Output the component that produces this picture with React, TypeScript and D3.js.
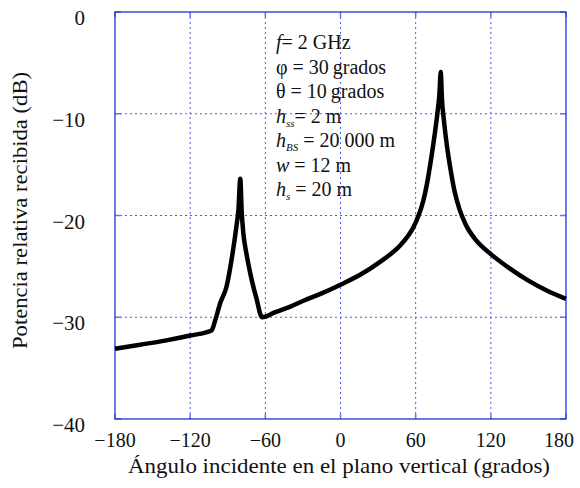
import React, { useEffect, useRef } from "react";
import * as d3 from "d3";

// angle (grados) and received power (dB)
const angles = [-180, -160, -140, -120, -103, -100, -96, -91, -86, -83, -81.5, -80, -78.8, -77.5, -75, -72, -67, -62.6,
  -52, -40, -30, -16, 0, 16, 31, 48, 54, 58, 62, 66, 69, 72, 75, 77.5, 79, 80, 81, 82.5, 85, 88, 91, 95, 100, 108, 120, 135, 150, 165, 180];
const power = [-33.1, -32.7, -32.3, -31.8, -31.3, -30.3, -28.6, -27.0, -23.6, -21.0, -19.5, -16.4, -19.8, -21.8, -23.8, -25.7, -28.2, -30.0,
  -29.5, -28.95, -28.4, -27.7, -26.8, -25.8, -24.6, -22.9, -22.0, -21.2, -20.1, -18.6, -16.9, -14.7, -12.2, -9.8, -8.0, -5.9, -8.6, -10.6, -13.2, -15.6, -17.6, -19.4, -20.9, -22.4, -23.8, -25.2, -26.4, -27.4, -28.2];

const xTicks = [-180, -120, -60, 0, 60, 120, 180];
const yTicks = [0, -10, -20, -30, -40];

const W = 580;
const H = 488;
const margin = { left: 115, right: 14, top: 12, bottom: 69 };

export default function App() {
  const ref = useRef<SVGSVGElement>(null);

  useEffect(() => {
    const svg = d3.select(ref.current);
    svg.selectAll("*").remove();
    const font = "'Liberation Serif', 'Times New Roman', serif";

    const x = d3.scaleLinear().domain([-180, 180]).range([margin.left, W - margin.right]);
    const y = d3.scaleLinear().domain([-40, 0]).range([H - margin.bottom, margin.top]);

    const grid = svg.append("g");
    grid.selectAll("line.vx")
      .data(xTicks.slice(1, -1))
      .enter().append("line")
      .attr("x1", (d) => x(d)).attr("x2", (d) => x(d))
      .attr("y1", y(0)).attr("y2", y(-40))
      .attr("stroke", "#4a5ee6").attr("stroke-width", 1)
      .attr("stroke-dasharray", "2,3");
    grid.selectAll("line.hy")
      .data(yTicks.slice(1, -1))
      .enter().append("line")
      .attr("x1", x(-180)).attr("x2", x(180))
      .attr("y1", (d) => y(d)).attr("y2", (d) => y(d))
      .attr("stroke", "#4a5ee6").attr("stroke-width", 1)
      .attr("stroke-dasharray", "2,3");

    // small tick marks on frame
    xTicks.forEach((t) => {
      grid.append("line").attr("x1", x(t)).attr("x2", x(t)).attr("y1", y(-40)).attr("y2", y(-40) - 5).attr("stroke", "#6677e8").attr("stroke-width", 1.5);
      grid.append("line").attr("x1", x(t)).attr("x2", x(t)).attr("y1", y(0)).attr("y2", y(0) + 5).attr("stroke", "#6677e8").attr("stroke-width", 1.5);
    });
    yTicks.forEach((t) => {
      grid.append("line").attr("x1", x(-180)).attr("x2", x(-180) + 6).attr("y1", y(t)).attr("y2", y(t)).attr("stroke", "#6677e8").attr("stroke-width", 1.5);
      grid.append("line").attr("x1", x(180)).attr("x2", x(180) - 6).attr("y1", y(t)).attr("y2", y(t)).attr("stroke", "#6677e8").attr("stroke-width", 1.5);
    });

    svg.append("rect")
      .attr("x", x(-180)).attr("y", y(0))
      .attr("width", x(180) - x(-180)).attr("height", y(-40) - y(0))
      .attr("fill", "none").attr("stroke", "#1f33d6").attr("stroke-width", 1.3);

    const line = d3.line<number>()
      .x((_, i) => x(angles[i]))
      .y((d) => y(d))
      .curve(d3.curveMonotoneX);

    svg.append("path")
      .datum(power)
      .attr("d", line)
      .attr("fill", "none")
      .attr("stroke", "#000")
      .attr("stroke-width", 4.5)
      .attr("stroke-linejoin", "miter");

    svg.selectAll("text.xt")
      .data(xTicks)
      .enter().append("text")
      .attr("x", (d) => (d === 180 ? 574 : x(d)))
      .attr("y", 447)
      .attr("text-anchor", (d) => (d === 180 ? "end" : "middle"))
      .attr("font-family", font).attr("font-size", 20).attr("fill", "#111")
      .text((d) => (d < 0 ? "\u2212" + Math.abs(d) : String(d)));

    svg.selectAll("text.yt")
      .data(yTicks)
      .enter().append("text")
      .attr("x", 85).attr("y", (d) => y(d) + 13)
      .attr("text-anchor", "end")
      .attr("font-family", font).attr("font-size", 21).attr("fill", "#111")
      .text((d) => (d < 0 ? "\u2212" + Math.abs(d) : String(d)));

    svg.append("text")
      .attr("x", 128).attr("y", 473)
      .attr("textLength", 422).attr("lengthAdjust", "spacingAndGlyphs")
      .attr("font-family", font).attr("font-size", 22).attr("fill", "#111")
      .text("Ángulo incidente en el plano vertical (grados)");

    svg.append("text")
      .attr("transform", "translate(27,349) rotate(-90)")
      .attr("textLength", 277).attr("lengthAdjust", "spacingAndGlyphs")
      .attr("font-family", font).attr("font-size", 20.5).attr("fill", "#111")
      .text("Potencia relativa recibida (dB)");

    // annotation block
    const lines: [string, string, string][] = [
      ["f", "", "= 2 GHz"],
      ["", "", "\u03c6 = 30\u2009grados"],
      ["", "", "\u03b8 = 10\u2009grados"],
      ["h", "ss", "= 2 m"],
      ["h", "BS", " = 20 000 m"],
      ["w", "", " = 12 m"],
      ["h", "s", " = 20 m"],
    ];
    const ann = svg.append("g").attr("font-family", font).attr("font-size", 20).attr("fill", "#111");
    lines.forEach((l, i) => {
      const t = ann.append("text").attr("x", 276).attr("y", 49 + i * 24.5);
      if (l[0]) t.append("tspan").attr("font-style", "italic").text(l[0]);
      if (l[1]) t.append("tspan").attr("font-style", "italic").attr("font-size", 11).attr("dy", 4).text(l[1]);
      t.append("tspan").attr("dy", l[1] ? -4 : 0).text(l[2]);
    });
  }, []);

  return <svg ref={ref} width={W} height={H} style={{ display: "block", position: "absolute", left: 0, top: 0 }} />;
}
